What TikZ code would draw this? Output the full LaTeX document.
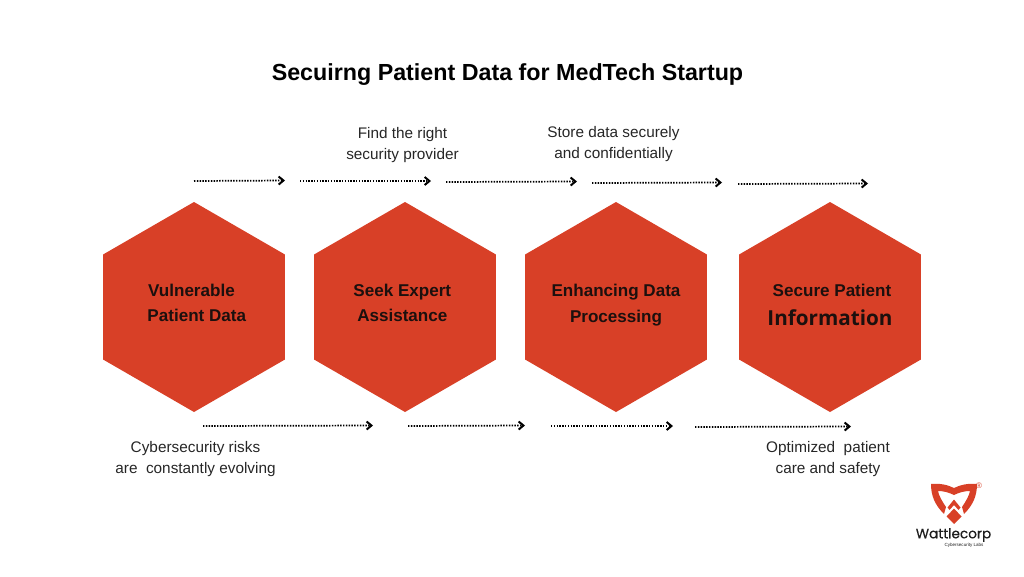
\documentclass[tikz,border=0pt]{standalone}
\usepackage{fontspec}
\setmainfont{Liberation Sans}
\newfontfamily\infofont{Open Sans}
\newfontfamily\logofont[FakeBold=0.4]{Poppins}
\usepackage{xcolor}
\usetikzlibrary{positioning}
\usetikzlibrary{shapes,shapes.geometric}
\usetikzlibrary{arrows.meta}
\definecolor{hexred}{HTML}{D84027}
\definecolor{hexink}{HTML}{1C100E}
\definecolor{logoink}{HTML}{1E1E1E}
\tikzset{
	hexagon/.style={regular polygon, regular polygon sides=6, shape border rotate=30, fill=hexred, draw=none, inner sep=0pt, outer sep=0pt, minimum size=157.5pt},
	hexlabel/.style={align=center, text=hexink, font=\fontsize{12.8}{19.2}\selectfont\bfseries},
	caption/.style={align=center, text=black!85, font=\fontsize{11.5}{15.2}\selectfont},
	flow/.style={-{Straight Barb[length=3.6pt,width=6pt,line width=1.5pt]}, line width=1.3pt, dash pattern=on 1.1pt off 1pt}
}
\begin{document}
\begin{tikzpicture}[x=0.75pt, y=-0.75pt, node distance=158.25pt]
		\useasboundingbox (0,0) rectangle (1024,576);
		\node (title) at (507.5,74.5) {\fontsize{17.45}{22}\selectfont\bfseries Secuirng Patient Data for MedTech Startup};
		
		\node[hexagon] (h1) at (194,307) {};
		\node[hexagon, right of = h1] (h2) {};
		\node[hexagon, right of = h2] (h3) {};
		\node[hexagon, right of = h3, xshift=2.25pt] (h4) {};
		
		\node[hexlabel] (l1) at ([xshift=1.1pt,yshift=3pt]h1.center) {\hspace*{-6pt}Vulnerable\\\hspace*{2pt}Patient Data};
		\node[hexlabel] (l2) at ([xshift=-2pt,yshift=3pt]h2.center) {Seek Expert\\Assistance};
		\node[hexlabel] (l3) at ([yshift=1.5pt]h3.center) {Enhancing Data\\Processing};
		\node[hexlabel] (l4) at ([yshift=1.5pt]h4.center) {\hspace*{3pt}Secure Patient\\[3pt]{\infofont\fontsize{15.5}{20}\selectfont\bfseries Information}};
		
		\node[caption] (c2) at (402.5,145) {Find the right\\security provider};
		\node[caption] (c3) at (613.5,144) {Store data securely\\and confidentially};
		\node[caption] (c1) at (195.5,459) {Cybersecurity risks\\are\ \ constantly evolving};
		\node[caption] (c4) at (828,459) {Optimized\ \ patient\\care and safety};
		
		\coordinate (a1) at (194,181);
		\coordinate (b1) at (285,180.5);
		\coordinate (a2) at (300,181);
		\coordinate (b2) at (431,181);
		\coordinate (a3) at (446,182);
		\coordinate (b3) at (577,181.5);
		\coordinate (a4) at (592,183);
		\coordinate (b4) at (722,182.5);
		\coordinate (a5) at (738,184);
		\coordinate (b5) at (868,183.5);
		\coordinate (a6) at (203,426);
		\coordinate (b6) at (373,425.5);
		\coordinate (a7) at (408,426);
		\coordinate (b7) at (525,425.5);
		\coordinate (a8) at (551,426);
		\coordinate (b8) at (673,426);
		\coordinate (a9) at (695,427);
		\coordinate (b9) at (851,426.5);
		
		\foreach \n in {1,...,9}
			\draw[flow] (a\n) -- (b\n);
		
		% logo
		\fill[hexred] (931,484) .. controls (940,483) and (948,485) .. (954,488) .. controls (960,485) and (968,483) .. (977,484) .. controls (977,496) and (973,505) .. (964,514) -- (962,507) .. controls (966,501) and (969,496) .. (970,491) .. controls (964,491) and (959,492.5) .. (954,495) .. controls (949,492.5) and (944,491) .. (938,491) .. controls (939,496) and (942,501) .. (946,507) -- (944,514) .. controls (935,505) and (931,496) .. cycle;
		\fill[hexred] (954,499.5) -- (960.5,507.5) -- (958.5,510) -- (954,505) -- (949.5,510) -- (947.5,507.5) -- cycle;
		\fill[hexred] (954,508.5) -- (961.5,516.5) -- (954,524) -- (946.5,516.5) -- cycle;
		\node[text=hexred, inner sep=0pt, font=\fontsize{6}{6}\selectfont] (reg) at (979,486) {\textregistered};
		\node[text=logoink, inner sep=0pt, font=\logofont\fontsize{10.2}{12}\selectfont] (wordmark) at (953.5,535) {Wattlecorp};
		\node[text=logoink, inner sep=0pt, font=\fontsize{3.4}{4}\selectfont] (tagline) at (964,545.5) {Cybersecurity Labs};
	\end{tikzpicture}
\end{document}
